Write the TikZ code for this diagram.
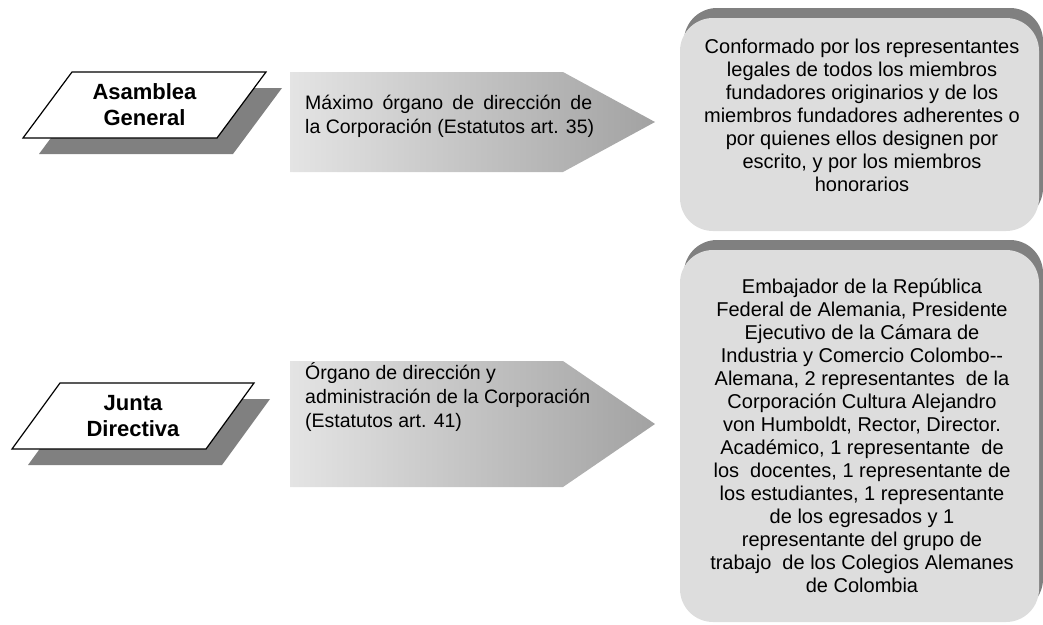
\documentclass[tikz,border=0pt]{standalone}
\usepackage{fontspec}
\setmainfont{Liberation Sans}
\definecolor{boxfill}{RGB}{221,221,221}
\definecolor{shadowgray}{RGB}{128,128,128}
\definecolor{arrowleft}{RGB}{228,228,228}
\definecolor{arrowright}{RGB}{162,162,162}
\begin{document}
\begin{tikzpicture}[x=1pt,y=-1pt,
  para/.style={draw=black, line width=1.2pt, fill=white, line join=miter},
  parashadow/.style={fill=shadowgray, draw=none},
  arrowshape/.style={left color=arrowleft, right color=arrowright, draw=none},
  roundbox/.style={fill=boxfill, rounded corners=33pt},
  roundshadow/.style={fill=shadowgray, rounded corners=33pt},
  paralabel/.style={font=\bfseries\fontsize{22}{26}\selectfont, align=center, inner sep=0pt},
  desc/.style={font=\fontsize{19.5}{24}\selectfont, align=left, anchor=north west, inner sep=0pt},
  boxtext/.style={font=\fontsize{20}{23}\selectfont, align=center, anchor=north, inner sep=0pt}]
\useasboundingbox (0,0) rectangle (1043,624);

% --- Asamblea General ---
\fill[parashadow] (88,88) -- (282,88) -- (233,154) -- (39,154) -- cycle;
\draw[para] (72,72) -- (266,72) -- (217,138) -- (23,138) -- cycle;
\node[paralabel] (asamblea) at (144.5,105) {Asamblea\\General};

\path[arrowshape] (290,72) -- (563,72) -- (655,122) -- (563,172) -- (290,172) -- cycle;
\node[desc] (desc1) at (305,94.5) {\makebox[287pt][s]{Máximo órgano de dirección de}\\la Corporación (Estatutos art. 35)};

\fill[roundshadow] (684,8) rectangle (1043,221);
\fill[roundbox] (680,18) rectangle (1039,231);
\node[boxtext] (box1) at (862,38.5) {Conformado por los representantes\\legales de todos los miembros\\fundadores originarios y de los\\miembros fundadores adherentes o\\por quienes ellos designen por\\escrito, y por los miembros\\honorarios};

% --- Junta Directiva ---
\fill[parashadow] (76,399) -- (270,399) -- (222,465) -- (28,465) -- cycle;
\draw[para] (60,383) -- (254,383) -- (206,449) -- (12,449) -- cycle;
\node[paralabel] (junta) at (133,416) {Junta\\Directiva};

\path[arrowshape] (290,361) -- (563,361) -- (655,424) -- (563,487) -- (290,487) -- cycle;
\node[desc] (desc2) at (305,362) {Órgano de dirección y\\administración de la Corporación\\(Estatutos art. 41)};

\fill[roundshadow] (684,240) rectangle (1043,612);
\fill[roundbox] (680,250) rectangle (1039,622);
\node[boxtext] (box2) at (862,278.4) {Embajador de la República\\Federal de Alemania, Presidente\\Ejecutivo de la Cámara de\\Industria y Comercio Colombo-{}-\\Alemana, 2 representantes~ de la\\Corporación Cultura Alejandro\\von Humboldt, Rector, Director.\\Académico, 1 representante~ de\\los~ docentes, 1 representante de\\los estudiantes, 1 representante\\de los egresados y 1\\representante del grupo de\\trabajo~ de los Colegios Alemanes\\de Colombia};
\end{tikzpicture}
\end{document}
